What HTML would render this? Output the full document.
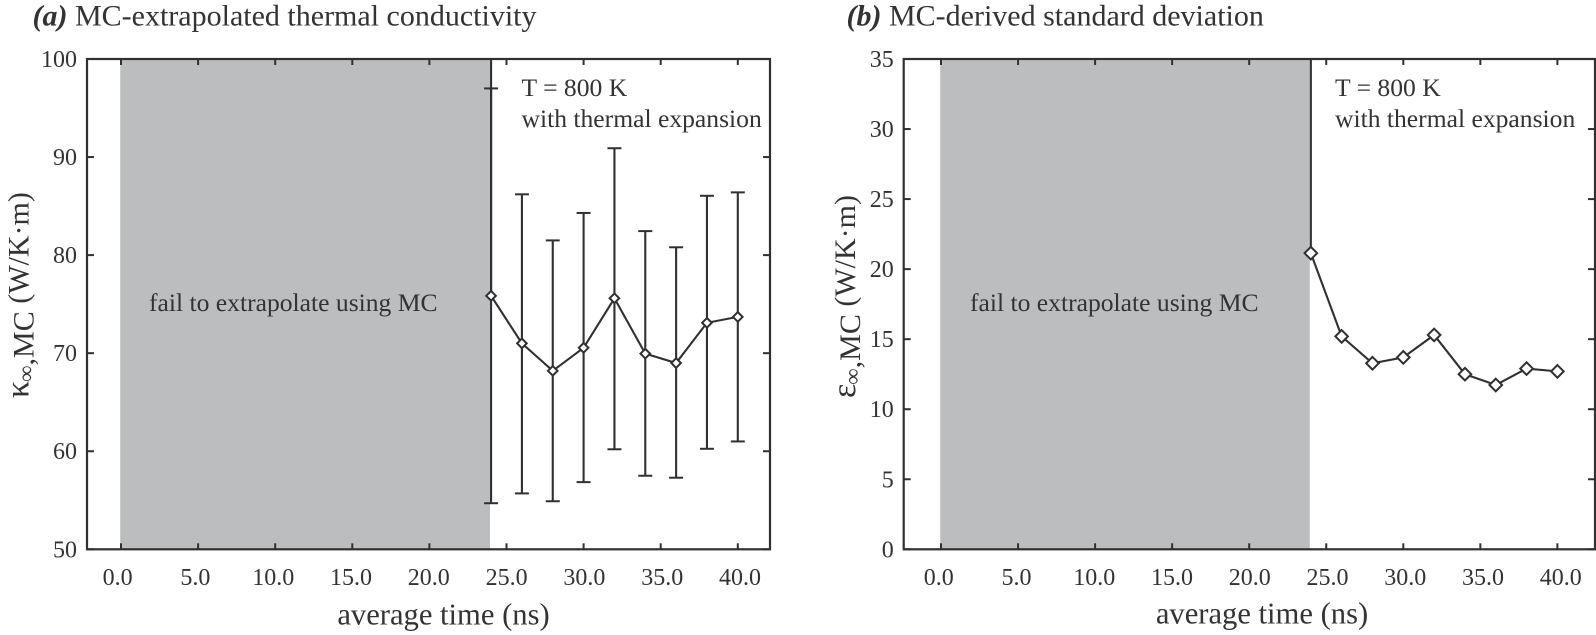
<!DOCTYPE html>
<html lang="en">
<head>
<meta charset="utf-8">
<title>MC-extrapolated thermal conductivity and standard deviation</title>
<style>
html,body{margin:0;padding:0;background:#fff;width:1596px;height:635px;overflow:hidden}
svg{display:block}
text{font-family:"Liberation Serif",serif;fill:#333}
</style>
</head>
<body>
<svg id="figure" xmlns="http://www.w3.org/2000/svg" width="1596" height="635" viewBox="0 0 1596 635"></svg>
<script>
// Shared data
const averageTimes = [24, 26, 28, 30, 32, 34, 36, 38, 40];
const xTickValues = [0, 5, 10, 15, 20, 25, 30, 35, 40];
const xTickLabels = ['0.0', '5.0', '10.0', '15.0', '20.0', '25.0', '30.0', '35.0', '40.0'];
const failRegion = [-0.05, 23.93];

// Panel (a)
const kappaMean = [75.85, 71.0, 68.2, 70.55, 75.6, 69.95, 69.0, 73.1, 73.7];
const kappaUpper = [97.0, 86.2, 81.5, 84.3, 90.9, 82.45, 80.8, 86.05, 86.4];
const kappaLower = [54.7, 55.7, 54.9, 56.85, 60.2, 57.5, 57.3, 60.25, 61.0];
const kappaYTicks = [50, 60, 70, 80, 90, 100];
const kappaYDomain = [50, 100];

// Panel (b)
const epsilonMean = [21.14, 15.2, 13.28, 13.7, 15.3, 12.5, 11.73, 12.9, 12.7];
const epsilonYTicks = [0, 5, 10, 15, 20, 25, 30, 35];
const epsilonYDomain = [0, 35];

const SVGNS = 'http://www.w3.org/2000/svg';
const INK = '#303030';
const svg = document.getElementById('figure');

function make(parent, tag, attrs, content) {
  const el = document.createElementNS(SVGNS, tag);
  for (const k in attrs) el.setAttribute(k, attrs[k]);
  if (content !== undefined) el.textContent = content;
  parent.appendChild(el);
  return el;
}

function drawPanel(p) {
  const x = v => p.x0 + v * p.xPerUnit;
  const y = v => p.bottom - (v - p.yDomain[0]) * (p.bottom - p.top) / (p.yDomain[1] - p.yDomain[0]);
  const labelX = v => x(v) + (v - 20) * 0.14 + p.labelShift;

  const g = make(svg, 'g', {});
  
  

  const region = make(g, 'rect', {x: x(failRegion[0]), y: p.top, width: x(failRegion[1]) - x(failRegion[0]), height: p.bottom - p.top, fill: '#bcbdbf'});
  
  

  const regionLabel = make(g, 'text', {x: p.failX, y: 311, 'font-size': 25.6}, 'fail to extrapolate using MC');
  
  

  xTickValues.forEach((v, i) => {
    const tickBottom = make(g, 'line', {x1: x(v), x2: x(v), y1: p.bottom, y2: p.bottom - 6, stroke: INK, 'stroke-width': 2});
    
    
    const tickTop = make(g, 'line', {x1: x(v), x2: x(v), y1: p.top, y2: p.top + 6, stroke: INK, 'stroke-width': 2});
    
    
    const label = make(g, 'text', {x: labelX(v), y: 585, 'font-size': 24, 'text-anchor': 'middle'}, xTickLabels[i]);
    
    
  });

  p.yTicks.forEach(v => {
    const tickLeft = make(g, 'line', {x1: p.left, x2: p.left + 7, y1: y(v), y2: y(v), stroke: INK, 'stroke-width': 2});
    
    
    const tickRight = make(g, 'line', {x1: p.right, x2: p.right - 7, y1: y(v), y2: y(v), stroke: INK, 'stroke-width': 2});
    
    
    const label = make(g, 'text', {x: p.left - 10, y: y(v) + 8, 'font-size': 24, 'text-anchor': 'end'}, String(v));
    
    
  });

  const boundary = make(g, 'line', {x1: x(averageTimes[0]), x2: x(averageTimes[0]), y1: p.top, y2: y(p.means[0]), stroke: INK, 'stroke-width': 2.1});
  
  

  if (p.upper) {
    averageTimes.forEach((t, i) => {
      const bar = make(g, 'line', {x1: x(t), x2: x(t), y1: y(p.upper[i]), y2: y(p.lower[i]), stroke: INK, 'stroke-width': 2.1});
      
      
      const capTop = make(g, 'line', {x1: x(t) - 7, x2: x(t) + 7, y1: y(p.upper[i]), y2: y(p.upper[i]), stroke: INK, 'stroke-width': 2});
      
      
      const capLow = make(g, 'line', {x1: x(t) - 7, x2: x(t) + 7, y1: y(p.lower[i]), y2: y(p.lower[i]), stroke: INK, 'stroke-width': 2});
      
      
    });
  }

  const pts = averageTimes.map((t, i) => x(t).toFixed(2) + ',' + y(p.means[i]).toFixed(2)).join(' ');
  const series = make(g, 'polyline', {points: pts, fill: 'none', stroke: INK, 'stroke-width': 2.1});
  
  

  averageTimes.forEach((t, i) => {
    const cx = x(t), cy = y(p.means[i]), r = p.marker;
    const marker = make(g, 'polygon', {points: [cx, cy - r, cx + r, cy, cx, cy + r, cx - r, cy].join(' '), fill: '#fff', stroke: INK, 'stroke-width': 2});
    
    
  });

  const frame = make(g, 'rect', {x: p.left, y: p.top, width: p.right - p.left, height: p.bottom - p.top, fill: 'none', stroke: INK, 'stroke-width': 2.2});
  
  

  const title = make(g, 'text', {x: p.titleX, y: 25.5, 'font-size': 30});
  
  
  make(title, 'tspan', {'font-weight': 'bold', 'font-style': 'italic'}, p.tag);
  make(title, 'tspan', {}, ' ' + p.title);

  const note1 = make(g, 'text', {x: p.noteX, y: 96, 'font-size': 25.6}, 'T = 800 K');
  
  
  const note2 = make(g, 'text', {x: p.noteX, y: 127, 'font-size': 25.6}, 'with thermal expansion');
  
  

  const xTitle = make(g, 'text', {x: p.xTitleX, y: p.xTitleY, 'font-size': 30.6, 'text-anchor': 'middle'}, 'average time (ns)');
  
  

  // Symbol on the main baseline; the infinity and ",MC" sit about 5px lower in the reference.
  const yTitle = make(g, 'text', {transform: 'translate(' + p.yTitleX + ',' + p.yTitleBase + ') rotate(-90)', 'font-size': 30});
  
  
  make(yTitle, 'tspan', {'font-size': 34}, p.symbol);
  make(yTitle, 'tspan', {'font-size': 23, dy: 5, dx: -1}, '\u221E');
  make(yTitle, 'tspan', {}, ',MC');
  make(yTitle, 'tspan', {dy: -5}, ' (W/K\u00B7m)');
}

drawPanel({
  id: 'conductivity', tag: '(a)', title: 'MC-extrapolated thermal conductivity', symbol: '\u03BA',
  x0: 121, xPerUnit: 15.42, left: 87, right: 770, top: 59, bottom: 549.3, labelShift: -0.6,
  yDomain: kappaYDomain, yTicks: kappaYTicks, means: kappaMean, upper: kappaUpper, lower: kappaLower,
  marker: 4.8, failX: 149, noteX: 521.5, titleX: 32.5, xTitleX: 443.5, xTitleY: 624.5, yTitleX: 28.5, yTitleBase: 398
});

drawPanel({
  id: 'deviation', tag: '(b)', title: 'MC-derived standard deviation', symbol: '\u03B5',
  x0: 941, xPerUnit: 15.41, left: 903.7, right: 1595, top: 59, bottom: 549.3, labelShift: 0.6,
  yDomain: epsilonYDomain, yTicks: epsilonYTicks, means: epsilonMean,
  marker: 6.3, failX: 970, noteX: 1335, titleX: 846.5, xTitleX: 1262, xTitleY: 623.5, yTitleX: 855, yTitleBase: 398
});
</script>
</body>
</html>
